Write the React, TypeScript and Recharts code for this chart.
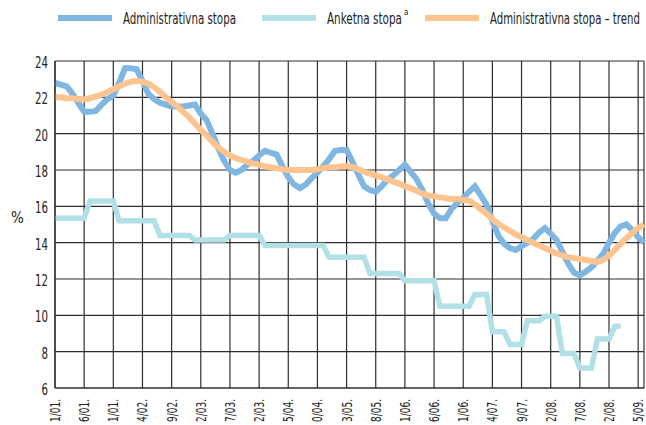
import React, { useLayoutEffect, useRef, useState } from "react";
import { LineChart, Line, XAxis, YAxis, CartesianGrid } from "recharts";

// Mjeseci od 1/2001 (0) do 6/2009 (101)
const xTicks = [0, 5, 10, 15, 20, 25, 30, 35, 40, 45, 50, 55, 60, 65, 70, 75, 80, 85, 90, 95, 100, 101];
const xLabels = [
  "1/01.", "6/01.", "1/01.", "4/02.", "9/02.", "2/03.", "7/03.", "2/03.", "5/04.", "0/04.", "3/05.",
  "8/05.", "1/06.", "6/06.", "1/06.", "4/07.", "9/07.", "2/08.", "7/08.", "2/08.", "5/09.", "",
];
const yTicks = [6, 8, 10, 12, 14, 16, 18, 20, 22, 24];

const administrativna = [
  22.8, 22.7, 22.6, 22.2, 21.7, 21.2, 21.2, 21.25, 21.6, 21.9,
  22.1, 22.8, 23.6, 23.6, 23.55, 22.9, 22.2, 21.9, 21.7, 21.6,
  21.5, 21.5, 21.5, 21.55, 21.6, 21.1, 20.75, 20.0, 19.2, 18.5,
  18.0, 17.85, 18.0, 18.3, 18.5, 18.8, 19.05, 18.95, 18.85, 18.2,
  17.6, 17.2, 17.0, 17.2, 17.55, 17.85, 18.2, 18.6, 19.05, 19.1,
  19.1, 18.45, 17.75, 17.1, 16.9, 16.8, 17.1, 17.45, 17.7, 18.0,
  18.3, 17.9, 17.5, 16.9, 16.15, 15.6, 15.35, 15.35, 15.85, 16.2,
  16.45, 16.8, 17.1, 16.6, 16.1, 15.2, 14.4, 13.95, 13.7, 13.6,
  13.8, 14.0, 14.2, 14.55, 14.8, 14.5, 14.15, 13.5, 12.85, 12.35,
  12.2, 12.4, 12.65, 13.0, 13.4, 14.0, 14.55, 14.9, 15.0, 14.7,
  14.3, 14.0,
];

const anketna = [
  15.35, 15.35, 15.35, 15.35, 15.35, 15.35, 16.3, 16.3, 16.3, 16.3,
  16.3, 15.2, 15.2, 15.2, 15.2, 15.2, 15.2, 15.2, 14.4, 14.4,
  14.4, 14.4, 14.4, 14.4, 14.15, 14.15, 14.15, 14.15, 14.15, 14.15,
  14.4, 14.4, 14.4, 14.4, 14.4, 14.4, 13.85, 13.85, 13.85, 13.85,
  13.85, 13.85, 13.85, 13.85, 13.85, 13.85, 13.85, 13.2, 13.2, 13.2,
  13.2, 13.2, 13.2, 13.2, 12.3, 12.3, 12.3, 12.3, 12.3, 12.3,
  11.9, 11.9, 11.9, 11.9, 11.9, 11.9, 10.5, 10.5, 10.5, 10.5,
  10.5, 10.5, 11.15, 11.15, 11.15, 9.1, 9.1, 9.1, 8.4, 8.4,
  8.4, 9.7, 9.7, 9.7, 9.95, 9.95, 9.95, 7.9, 7.9, 7.9,
  7.1, 7.1, 7.1, 8.7, 8.7, 8.7, 9.4, 9.4,
];

const trend = [
  22.0, 22.0, 21.95, 21.95, 21.9, 21.9, 21.95, 22.05, 22.15, 22.3,
  22.45, 22.6, 22.75, 22.85, 22.9, 22.85, 22.75, 22.55, 22.3, 22.0,
  21.75, 21.5, 21.2, 20.9, 20.55, 20.2, 19.9, 19.55, 19.25, 19.0,
  18.8, 18.65, 18.55, 18.45, 18.35, 18.3, 18.2, 18.15, 18.1, 18.05,
  18.0, 18.0, 18.0, 18.0, 18.0, 18.05, 18.1, 18.15, 18.15, 18.2,
  18.2, 18.15, 18.05, 17.9, 17.8, 17.7, 17.6, 17.5, 17.35, 17.25,
  17.1, 17.0, 16.85, 16.7, 16.6, 16.55, 16.5, 16.45, 16.4, 16.4,
  16.35, 16.3, 16.1, 15.85, 15.6, 15.3, 15.05, 14.85, 14.65, 14.45,
  14.3, 14.15, 14.0, 13.85, 13.7, 13.55, 13.4, 13.3, 13.2, 13.15,
  13.1, 13.05, 13.0, 12.95, 13.05, 13.3, 13.6, 13.95, 14.25, 14.55,
  14.8, 15.0,
];

const BLUE = "#7fb6e2";
const CYAN = "#b1e0e7";
const ORANGE = "#fdc48f";
const GRID = "#2e2e2e";
const FONT = "'Liberation Sans Narrow', 'DejaVu Sans Condensed', 'Arial Narrow', sans-serif";

const data = administrativna.map((v, i) => ({
  m: i,
  admin: v,
  anketna: i < anketna.length ? anketna[i] : null,
  trend: trend[i],
}));

// Tekst koji se horizontalno sabije na zadanu širinu (uski font nije dostupan)
const FitText = ({ x, y, width, size, anchor = "start", children }: any) => {
  const ref = useRef<SVGTextElement>(null);
  const [sx, setSx] = useState(1);
  useLayoutEffect(() => {
    if (ref.current) {
      const w = ref.current.getComputedTextLength();
      if (w > 0) setSx(Math.min(1, width / w));
    }
  }, [width, children]);
  return (
    <g transform={`translate(${x},${y}) scale(${sx},1)`}>
      <text ref={ref} x={0} y={0} textAnchor={anchor} fontSize={size} fontFamily={FONT} fill="#222">
        {children}
      </text>
    </g>
  );
};

const XTick = (props: any) => {
  const { x, y, payload } = props;
  const idx = xTicks.indexOf(payload.value);
  const label = xLabels[idx];
  if (!label) return null;
  return (
    <g transform={`translate(${x + 5},${y + 11}) rotate(-90)`}>
      <FitText x={0} y={0} width={23} size={14} anchor="end">
        {label}
      </FitText>
    </g>
  );
};

const YTick = (props: any) => {
  const { x, y, payload } = props;
  const s = String(payload.value);
  return (
    <FitText x={x - 7} y={y + 7} width={s.length * 6.5} size={15} anchor="end">
      {s}
    </FitText>
  );
};

const legendItems = [
  { color: BLUE, x: 58, text: "Administrativna stopa", len: 113, sup: false },
  { color: CYAN, x: 262, text: "Anketna stopa", len: 75, sup: true },
  { color: ORANGE, x: 425, text: "Administrativna stopa – trend", len: 150, sup: false },
];

const ChartLegend = () => (
  <svg width={646} height={40} style={{ position: "absolute", left: 0, top: 0 }}>
    {legendItems.map((it) => (
      <g key={it.text}>
        <line x1={it.x} x2={it.x + 54} y1={18} y2={18} stroke={it.color} strokeWidth={6} />
        <FitText x={it.x + 65} y={23.5} width={it.len} size={15}>
          {it.text}
        </FitText>
        {it.sup && (
          <text x={it.x + 65 + it.len + 2} y={15} fontSize={8} fontFamily={FONT} fill="#222">
            a
          </text>
        )}
      </g>
    ))}
  </svg>
);

const App: React.FC = () => {
  return (
    <div style={{ position: "absolute", left: 0, top: 0, width: 646, height: 425, background: "#fff" }}>
      <LineChart width={646} height={425} data={data} margin={{ top: 61, right: 2, bottom: 0, left: 0 }}>
        <CartesianGrid stroke={GRID} strokeWidth={1.2} />
        <XAxis
          dataKey="m"
          type="number"
          domain={[0, 101]}
          ticks={xTicks}
          interval={0}
          tick={<XTick />}
          tickLine={false}
          tickSize={0}
          tickMargin={0}
          axisLine={{ stroke: GRID, strokeWidth: 1.2 }}
          height={37}
        />
        <YAxis
          domain={[6, 24]}
          ticks={yTicks}
          interval={0}
          tick={<YTick />}
          tickLine={false}
          tickSize={0}
          tickMargin={0}
          axisLine={{ stroke: GRID, strokeWidth: 1.2 }}
          width={55}
          label={() => (
            <text x={11} y={223} fontSize={15} fontFamily={FONT} fill="#222">
              %
            </text>
          )}
        />
        <Line dataKey="anketna" stroke={CYAN} strokeWidth={5.5} dot={false} activeDot={false} isAnimationActive={false} />
        <Line dataKey="admin" stroke={BLUE} strokeWidth={6} dot={false} activeDot={false} isAnimationActive={false} />
        <Line type="monotone" dataKey="trend" stroke={ORANGE} strokeWidth={6} dot={false} activeDot={false} isAnimationActive={false} />
      </LineChart>
      <ChartLegend />
    </div>
  );
};

export default App;
